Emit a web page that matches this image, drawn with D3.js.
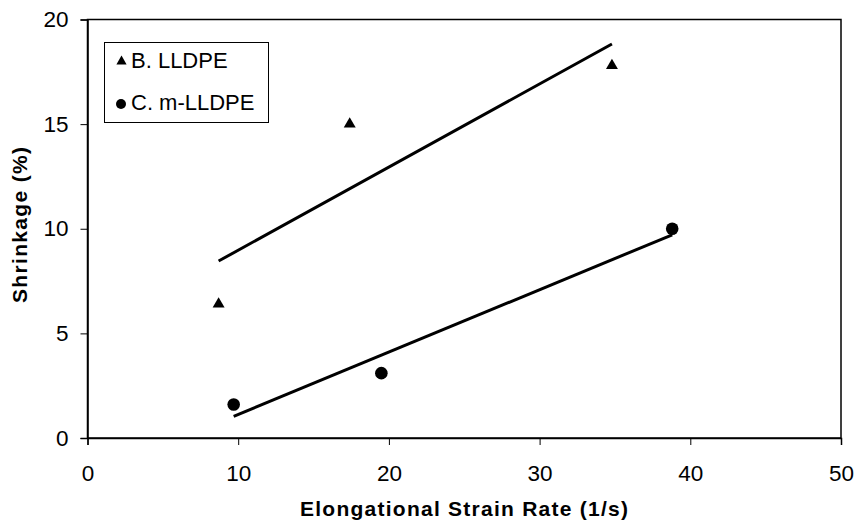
<!DOCTYPE html>
<html>
<head>
<meta charset="utf-8">
<script src="https://cdn.jsdelivr.net/npm/d3@7"></script>
<style>
  html, body { margin: 0; padding: 0; background: #fff; }
  svg { display: block; font-family: Arial, "Liberation Sans", sans-serif; }
</style>
</head>
<body>
<svg id="chart" width="858" height="525"></svg>
<script>
// Shrinkage vs elongational strain rate for two polyethylene grades
const lldpeRate = [8.7, 17.4, 34.8];
const lldpeShrink = [6.4, 15.0, 17.8];
const mlldpeRate = [9.7, 19.5, 38.8];
const mlldpeShrink = [1.6, 3.1, 10.0];

const xTicks = [0, 10, 20, 30, 40, 50];
const yTicks = [0, 5, 10, 15, 20];
const seriesNames = ["B. LLDPE", "C. m-LLDPE"];

const svg = d3.select("#chart");
const margin = { left: 87.5, right: 17, top: 19.5, bottom: 87 };
const W = 858, H = 525;

const x = d3.scaleLinear().domain([0, 50]).range([margin.left, W - margin.right]);
const y = d3.scaleLinear().domain([0, 20]).range([H - margin.bottom, margin.top]);

// Plot frame
svg.append("rect")
  .attr("x", x(0)).attr("y", y(20))
  .attr("width", x(50) - x(0)).attr("height", y(0) - y(20))
  .attr("fill", "none").attr("stroke", "#000").attr("stroke-width", 1.5);

// Axes
const xAxis = svg.append("g")
  .attr("transform", `translate(0,${y(0)})`)
  .call(d3.axisBottom(x).tickValues(xTicks).tickSize(7).tickPadding(20).tickFormat(d3.format("d")));
const yAxis = svg.append("g")
  .attr("transform", `translate(${x(0)},0)`)
  .call(d3.axisLeft(y).tickValues(yTicks).tickSize(7).tickPadding(12).tickFormat(d3.format("d")));
[xAxis, yAxis].forEach(g => {
  g.select(".domain").attr("stroke", "#000").attr("stroke-width", 1.5);
  g.selectAll(".tick line").attr("stroke", "#000").attr("stroke-width", 1);
  g.selectAll(".tick text").attr("fill", "#000").style("font-size", "22.5px")
    .style("font-family", "Arial, 'Liberation Sans', sans-serif");
});

// Least-squares trend line through each series
function fit(xs, ys) {
  const mx = d3.mean(xs), my = d3.mean(ys);
  let sxy = 0, sxx = 0;
  xs.forEach((v, i) => { sxy += (v - mx) * (ys[i] - my); sxx += (v - mx) * (v - mx); });
  const b = sxy / sxx, a = my - b * mx;
  const x0 = d3.min(xs), x1 = d3.max(xs);
  return [[x0, a + b * x0], [x1, a + b * x1]];
}
const line = d3.line().x(d => x(d[0])).y(d => y(d[1]));
[[lldpeRate, lldpeShrink], [mlldpeRate, mlldpeShrink]].forEach(([xs, ys]) => {
  svg.append("path").attr("d", line(fit(xs, ys)))
    .attr("fill", "none").attr("stroke", "#000").attr("stroke-width", 3);
});

// Markers
const tri = d3.symbol().type(d3.symbolTriangle).size(62);
svg.append("g").selectAll("path")
  .data(lldpeRate.map((v, i) => [v, lldpeShrink[i]]))
  .join("path")
  .attr("d", tri)
  .attr("transform", d => `translate(${x(d[0])},${y(d[1])})`)
  .attr("fill", "#000");
svg.append("g").selectAll("circle")
  .data(mlldpeRate.map((v, i) => [v, mlldpeShrink[i]]))
  .join("circle")
  .attr("cx", d => x(d[0])).attr("cy", d => y(d[1]))
  .attr("r", 6.3).attr("fill", "#000");

// Legend
const lg = svg.append("g");
lg.append("rect").attr("x", 104.5).attr("y", 42.5).attr("width", 164).attr("height", 80)
  .attr("fill", "#fff").attr("stroke", "#000").attr("stroke-width", 1);
lg.append("path").attr("d", d3.symbol().type(d3.symbolTriangle).size(45))
  .attr("transform", "translate(121.5,61.5)").attr("fill", "#000");
lg.append("circle").attr("cx", 121).attr("cy", 104).attr("r", 5).attr("fill", "#000");
lg.selectAll("text").data(seriesNames).join("text")
  .attr("x", 131).attr("y", (d, i) => 68 + i * 42)
  .style("font-size", "22px").attr("fill", "#000").text(d => d);

// Axis titles
svg.append("text").attr("x", 464).attr("y", 516)
  .attr("text-anchor", "middle").style("font-size", "21px").style("font-weight", "bold")
  .attr("textLength", 328).attr("lengthAdjust", "spacing")
  .text("Elongational Strain Rate (1/s)");
svg.append("text")
  .attr("transform", "translate(27,225) rotate(-90)")
  .attr("text-anchor", "middle").style("font-size", "21px").style("font-weight", "bold")
  .attr("textLength", 156).attr("lengthAdjust", "spacing")
  .text("Shrinkage (%)");
</script>
</body>
</html>
